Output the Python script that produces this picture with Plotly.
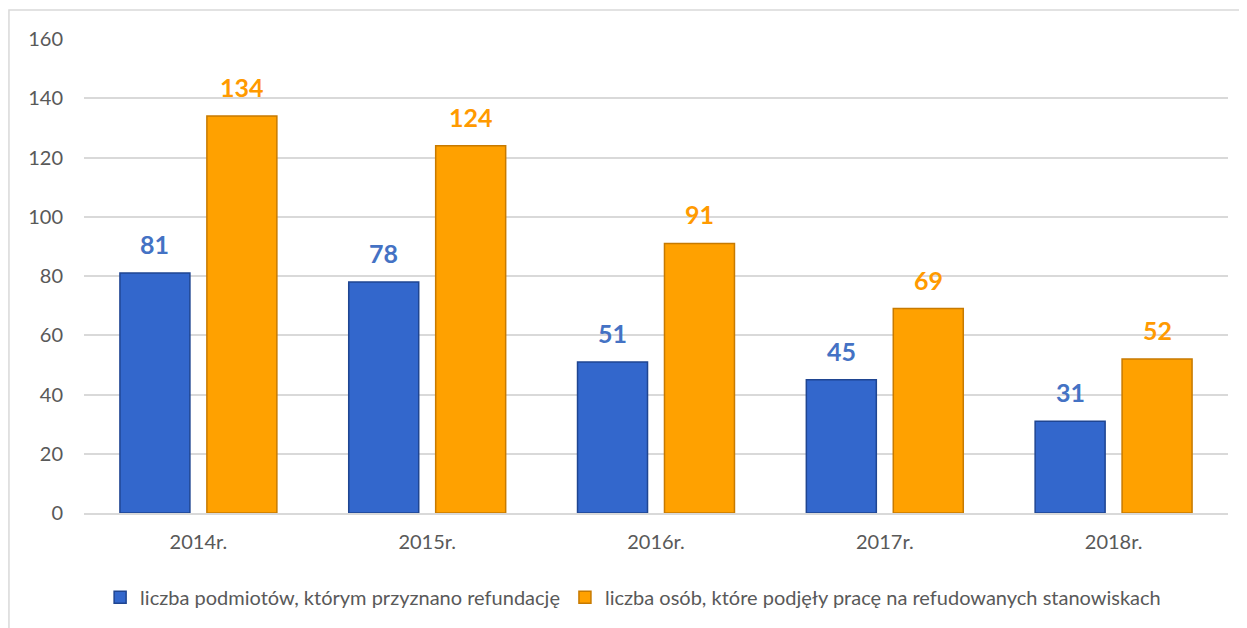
import plotly.graph_objects as go

categories = ["2014r.", "2015r.", "2016r.", "2017r.", "2018r."]
podmioty = [81, 78, 51, 45, 31]
osoby = [134, 124, 91, 69, 52]
name_podmioty = "liczba podmiotów, którym przyznano refundację"
name_osoby = "liczba osób, które podjęły pracę na refudowanych stanowiskach"
y_ticks = [0, 20, 40, 60, 80, 100, 120, 140, 160]

FONT = "Lato, 'Open Sans', sans-serif"
BARGAP = 0.24
SLOT = (1 - BARGAP) / 2  # width of each bar slot in category units

fig = go.Figure()
fig.add_trace(go.Bar(
    x=categories, y=podmioty, name=name_podmioty,
    marker=dict(color="#3367cc", line=dict(color="#1f4591", width=1.5)),
))
fig.add_trace(go.Bar(
    x=categories, y=osoby, name=name_osoby,
    marker=dict(color="#ffa100", line=dict(color="#c77a00", width=1.5)),
))

annotations = []
for series, offset, color in ((podmioty, -SLOT / 2, "#4472c4"), (osoby, SLOT / 2, "#ff9a00")):
    for i, v in enumerate(series):
        annotations.append(dict(
            x=i + offset, y=v, xref="x", yref="y", text=f"<b>{v}</b>",
            showarrow=False, yanchor="middle", yshift=29,
            font=dict(family=FONT, size=25, color=color),
        ))

fig.update_layout(
    width=1239, height=620,
    paper_bgcolor="white", plot_bgcolor="white",
    margin=dict(l=76, r=19, t=31, b=114),
    barmode="group", bargap=BARGAP, bargroupgap=0.195,
    font=dict(family=FONT, size=19, color="#595959"),
    showlegend=True,
    legend=dict(orientation="h", x=0.48, xanchor="center", y=-0.175, yanchor="middle",
                font=dict(family=FONT, size=20, color="#595959"),
                itemwidth=30, traceorder="normal"),
    annotations=annotations,
    shapes=[dict(type="rect", xref="paper", yref="paper",
                 x0=-0.0656, x1=1.05, y0=-0.4, y1=1.061,
                 line=dict(color="#d9d9d9", width=1.5), fillcolor="rgba(0,0,0,0)", layer="below")],
)
fig.update_yaxes(range=[0, 160], tickvals=y_ticks, showgrid=True, gridcolor="#d9d9d9",
                 gridwidth=1.5, zeroline=False, showline=False, ticks="",
                 tickfont=dict(family=FONT, size=20, color="#595959"), ticklabelstandoff=20)
fig.update_xaxes(showline=True, linecolor="#d9d9d9", linewidth=1.5, ticks="",
                 tickfont=dict(family=FONT, size=20, color="#595959"), ticklabelstandoff=10)

fig.write_html("out.html")
